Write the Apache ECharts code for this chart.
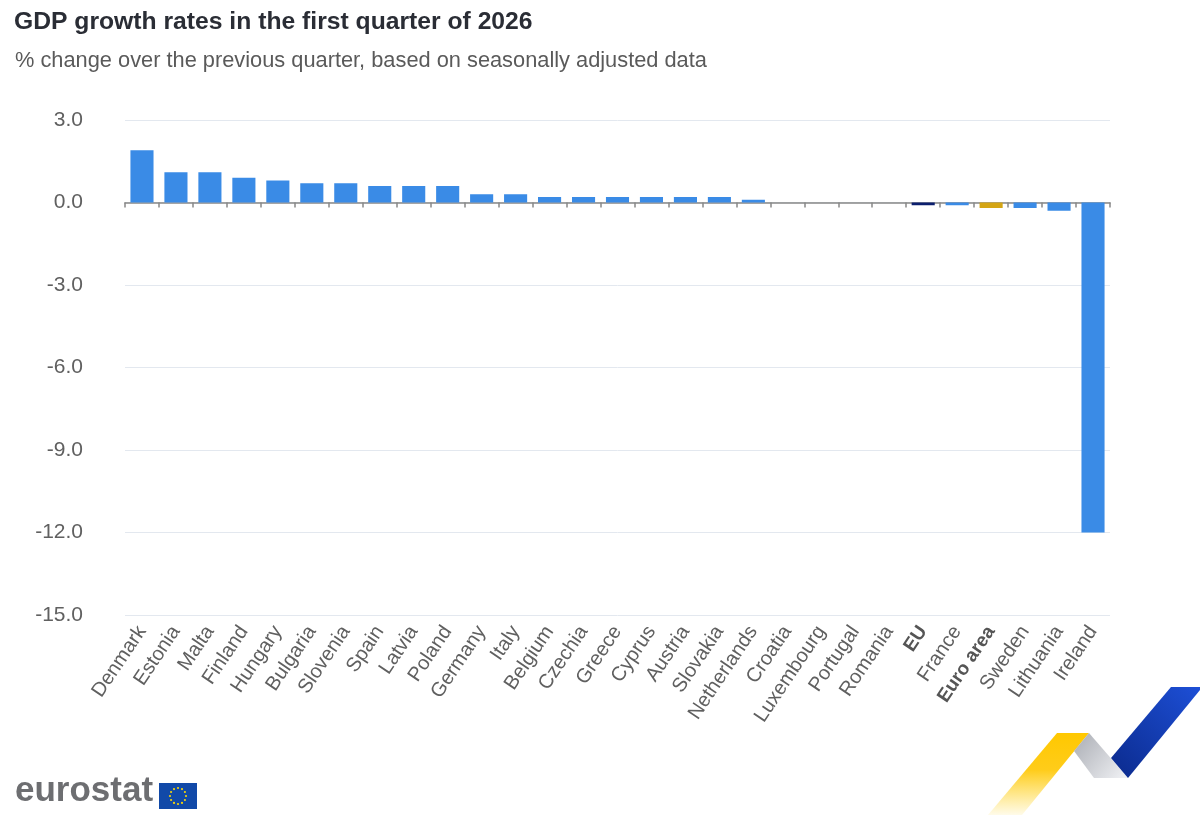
<!DOCTYPE html>
<html>
<head>
<meta charset="utf-8">
<script src="https://cdn.jsdelivr.net/npm/echarts@6/dist/echarts.min.js"></script>
<style>
  html, body { margin: 0; padding: 0; background: #fff; }
  #chart { width: 1200px; height: 815px; }
</style>
</head>
<body>
<div id="chart"></div>
<script>
// countries, ordered as in the publication
var countries = ['Denmark', 'Estonia', 'Malta', 'Finland', 'Hungary', 'Bulgaria', 'Slovenia', 'Spain',
  'Latvia', 'Poland', 'Germany', 'Italy', 'Belgium', 'Czechia', 'Greece', 'Cyprus', 'Austria',
  'Slovakia', 'Netherlands', 'Croatia', 'Luxembourg', 'Portugal', 'Romania', 'EU', 'France',
  'Euro area', 'Sweden', 'Lithuania', 'Ireland'];
// % change over previous quarter
var growth = [1.9, 1.1, 1.1, 0.9, 0.8, 0.7, 0.7, 0.6, 0.6, 0.6, 0.3, 0.3, 0.2, 0.2, 0.2, 0.2, 0.2,
  0.2, 0.1, 0.0, 0.0, 0.0, 0.0, -0.1, -0.1, -0.2, -0.2, -0.3, -12.0];
var aggregates = ['EU', 'Euro area'];
var aggColors = { 'EU': '#0c1f6e', 'Euro area': '#d4a514' };

var chart = echarts.init(document.getElementById('chart'));

var barData = countries.map(function (c, i) {
  var item = { value: growth[i] };
  if (aggColors[c]) item.itemStyle = { color: aggColors[c] };
  return item;
});

// stars for the little EU flag in the logo
var stars = [];
for (var k = 0; k < 12; k++) {
  var a = k / 12 * Math.PI * 2;
  stars.push({
    type: 'circle',
    shape: { cx: 178 + Math.cos(a) * 8, cy: 796 + Math.sin(a) * 8, r: 1.1 },
    style: { fill: '#f4d40c' }
  });
}

var option = {
  backgroundColor: '#fff',
  animation: false,
  title: [{
    text: 'GDP growth rates in the first quarter of 2026',
    left: 9,
    top: 5,
    textStyle: { fontFamily: 'Liberation Sans', fontSize: 24.7, fontWeight: 'bold', color: '#2a2d35' }
  }, {
    text: '% change over the previous quarter, based on seasonally adjusted data',
    left: 10,
    top: 45,
    textStyle: { fontFamily: 'Liberation Sans', fontSize: 21.8, fontWeight: 'normal', color: '#5a5a5a' }
  }],
  grid: { left: 125, right: 90, top: 120, bottom: 200 },
  xAxis: [{
    type: 'category',
    data: countries,
    position: 'bottom',
    axisLine: { show: false, onZero: false },
    axisTick: { show: false },
    axisLabel: {
      rotate: 56,
      margin: 13,
      interval: 0,
      fontFamily: 'Liberation Sans',
      fontSize: 20,
      color: '#606060',
      formatter: function (v) {
        return aggregates.indexOf(v) >= 0 ? '{b|' + v + '}' : v;
      },
      rich: {
        b: { fontFamily: 'Liberation Sans', fontSize: 19, fontWeight: 'bold', color: '#555' }
      }
    }
  }, {
    type: 'category',
    data: countries,
    position: 'bottom',
    axisLine: { show: true, onZero: true, onZeroAxisIndex: 0, lineStyle: { color: '#888', width: 1.5 } },
    axisTick: { show: true, interval: 0, length: 5, lineStyle: { color: '#888', width: 1.5 } },
    axisLabel: { show: false }
  }],
  yAxis: {
    type: 'value',
    min: -15,
    max: 3,
    interval: 3,
    axisLine: { show: false },
    axisTick: { show: false },
    axisLabel: {
      margin: 42,
      fontFamily: 'Liberation Sans',
      fontSize: 21,
      color: '#606060',
      formatter: function (v) { return v.toFixed(1); }
    },
    splitLine: { lineStyle: { color: '#e3e8ef', width: 1 } }
  },
  series: [{
    type: 'bar',
    xAxisIndex: 0,
    data: barData,
    barCategoryGap: '32%',
    itemStyle: { color: '#3a8be6' }
  }],
  graphic: [{
    type: 'text',
    left: 15,
    top: 774,
    style: { text: 'eurostat', fontFamily: 'Liberation Sans', fontSize: 35, fontWeight: 'bold', fill: '#6d6e71' }
  }, {
    type: 'rect',
    shape: { x: 159, y: 783, width: 38, height: 26 },
    style: { fill: '#1149a8' }
  }, {
    type: 'group',
    children: stars
  }, {
    // yellow ribbon
    type: 'polygon',
    shape: { points: [[988, 815], [1057, 733], [1089, 733], [1022, 815]] },
    style: {
      fill: new echarts.graphic.LinearGradient(0, 1, 0, 0, [
        { offset: 0, color: 'rgba(255,214,40,0.1)' },
        { offset: 0.55, color: '#ffcc1a' },
        { offset: 1, color: '#ffc800' }
      ])
    }
  }, {
    // grey fold
    type: 'polygon',
    shape: { points: [[1074, 751], [1089, 733], [1128, 778], [1094, 778]] },
    style: {
      fill: new echarts.graphic.LinearGradient(0, 0, 1, 1, [
        { offset: 0, color: '#a9acb3' },
        { offset: 1, color: '#f2f3f6' }
      ])
    }
  }, {
    // blue ribbon
    type: 'polygon',
    shape: { points: [[1111, 758], [1171, 687], [1200, 687], [1200, 690], [1128, 778]] },
    style: {
      fill: new echarts.graphic.LinearGradient(0, 1, 1, 0, [
        { offset: 0, color: '#0b2a8c' },
        { offset: 1, color: '#1d4fd6' }
      ])
    }
  }]
};

chart.setOption(option);
</script>
</body>
</html>
